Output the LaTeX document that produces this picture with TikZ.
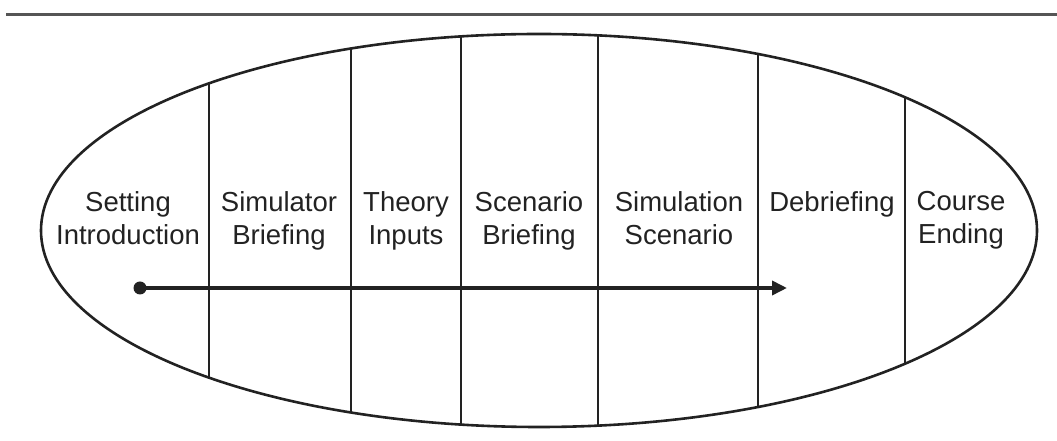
\documentclass[tikz,border=0pt]{standalone}
\usepackage{fontspec}
\setmainfont{Liberation Sans}
\usepackage{xcolor}
\usepackage{tikz}
\usetikzlibrary{arrows.meta,shapes.geometric}

\definecolor{inkgray}{HTML}{222222}
\definecolor{rulegray}{HTML}{555555}
\tikzset{
  phase/.style={anchor=north,inner sep=0pt,align=center,text=inkgray,
    font=\fontsize{27.5}{33}\selectfont},
  divider/.style={inkgray,line width=1.6pt}
}

\begin{document}
\begin{tikzpicture}[x=1pt,y=1pt]
\useasboundingbox (0,0) rectangle (1057,441);
\draw[rulegray,line width=3pt] (6,426) -- (1057,426);
\node[draw=inkgray,ellipse,line width=2.6pt,minimum width=996pt,minimum height=393pt,inner sep=0pt] (course) at (539,210.5) {};
\begin{scope}
  \clip (course.center) ellipse [x radius=498,y radius=196.5];
  \foreach \x in {209,351,461,598,758,905}
    \draw[divider] (\x,0) -- (\x,441);
\end{scope}
\foreach \x/\lab/\nm in {128/{Setting\\Introduction}/setting,
    279/{Simulator\\Briefing}/simbrief,406/{Theory\\Inputs}/theory,
    529/{Scenario\\Briefing}/scenbrief,679/{Simulation\\Scenario}/simulation,
    832/{Debriefing}/debrief,961/{Course\\Ending}/ending}{
  \node[phase] (\nm) at (\x,249.5) {\lab};
}
\coordinate (start) at (140,153);
\coordinate (stop) at (787,153);
\fill[inkgray] (start) circle (6.5);
\draw[inkgray,line width=3.6pt,-{Triangle[length=15pt,width=14pt]}] (start) -- (stop);
\end{tikzpicture}
\end{document}
